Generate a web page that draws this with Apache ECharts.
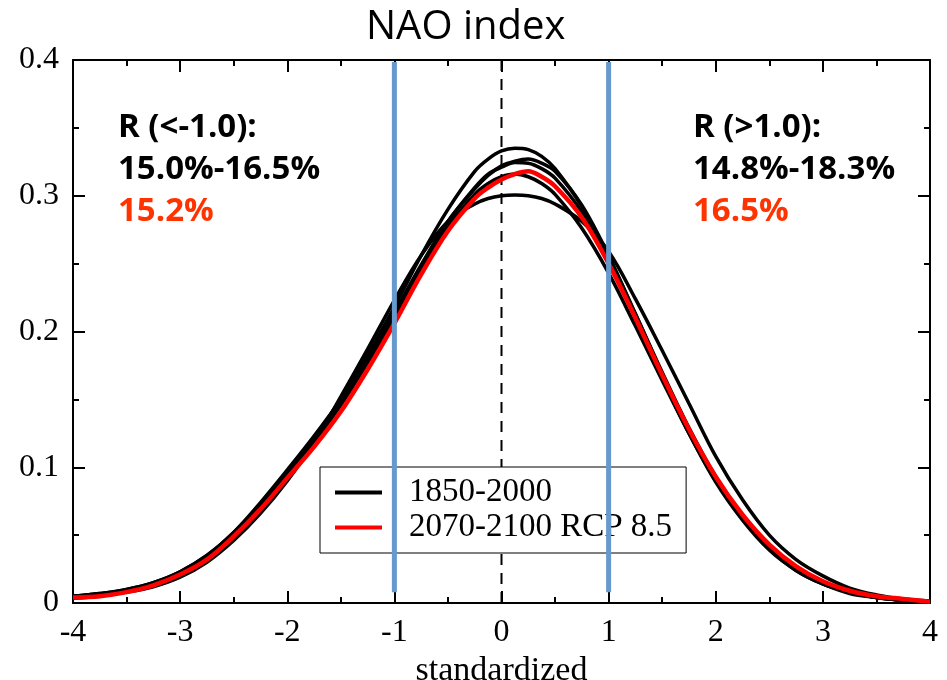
<!DOCTYPE html>
<html><head><meta charset="utf-8">
<script src="https://cdn.jsdelivr.net/npm/echarts@6/dist/echarts.min.js"></script>
<style>html,body{margin:0;padding:0;background:#fff}#c{width:947px;height:680px}</style>
</head><body><div id="c"></div>
<script>
// x positions (standardized NAO index)
const xs = [-4,-3.75,-3.5,-3.25,-3,-2.75,-2.5,-2.25,-2,-1.75,-1.5,-1.25,-1,-0.75,-0.5,-0.25,-0.125,0,0.125,0.25,0.375,0.5,0.75,1,1.25,1.5,1.75,2,2.25,2.5,2.75,3,3.25,3.5,3.75,4];
// 1850-2000 (five black curves)
const hist1 = [.005,.007,.010,.015,.023,.035,.052,.073,.097,.122,.150,.183,.218,.256,.290,.318,.327,.333,.335,.334,.329,.320,.292,.255,.213,.170,.129,.093,.064,.042,.026,.015,.008,.004,.002,.001];
const hist2 = [.005,.006,.009,.014,.022,.034,.051,.072,.095,.119,.146,.178,.212,.248,.281,.305,.315,.322,.3255,.327,.324,.318,.293,.256,.213,.169,.128,.092,.063,.041,.025,.014,.008,.004,.002,.001];
const hist3 = [.005,.007,.010,.015,.023,.035,.052,.074,.098,.123,.150,.181,.214,.249,.281,.306,.316,.321,.3245,.324,.320,.313,.288,.252,.210,.166,.125,.089,.061,.039,.024,.014,.007,.004,.002,.001];
const hist4 = [.004,.006,.009,.014,.022,.033,.050,.071,.095,.119,.146,.177,.210,.245,.277,.301,.309,.314,.316,.314,.309,.301,.276,.243,.204,.164,.125,.090,.062,.040,.024,.014,.008,.004,.002,.001];
const hist5 = [.0035,.005,.008,.012,.019,.030,.046,.066,.090,.118,.152,.187,.223,.256,.281,.294,.298,.3,.3005,.3,.298,.294,.281,.259,.224,.186,.147,.108,.076,.050,.032,.020,.011,.006,.003,.0015];
// 2070-2100 RCP 8.5 (red)
const rcp85 = [.004,.005,.008,.013,.021,.032,.049,.069,.092,.115,.141,.172,.206,.242,.274,.298,.306,.312,.316,.318,.314,.307,.284,.250,.210,.168,.128,.093,.065,.043,.027,.016,.009,.005,.003,.001];
// axis settings
const xMin = -4, xMax = 4, xStep = 1;
const yMin = 0, yMax = 0.4, yStep = 0.1;
// threshold lines
const thresholds = [-1, 1];
const thresholdSpan = [0.008, 0.3985];
const centerLine = 0;
// annotation texts
const leftNote = ['R (<-1.0):', '15.0%-16.5%', '15.2%'];
const rightNote = ['R (>1.0):', '14.8%-18.3%', '16.5%'];
const legendNames = ['1850-2000', '2070-2100 RCP 8.5'];

const serif = "'Liberation Serif','Times New Roman',serif";
const chart = echarts.init(document.getElementById('c'));
const pair = arr => xs.map((x, i) => [x, arr[i]]);

const histSeries = [hist1, hist2, hist3, hist4, hist5].map(arr => ({
  name: legendNames[0], type: 'line', data: pair(arr), smooth: 0.35, showSymbol: false,
  lineStyle: {color: '#000', width: 3.5}, itemStyle: {color: '#000'}, z: 2, silent: true
}));
const axisCommon = {
  type: 'value', splitLine: {show: false},
  axisLine: {onZero: false, lineStyle: {color: '#000', width: 2}},
  axisTick: {inside: true, length: 12, lineStyle: {color: '#000', width: 2}},
  minorTick: {show: true, splitNumber: 2, length: 6, lineStyle: {color: '#000', width: 2}}
};
const noteText = (x, lines) => lines.map((t, i) => ({
  type: 'text', left: x, top: 111 + i * 42, z: 10,
  style: {text: t, fill: i === 2 ? '#ff3300' : '#000', font: "bold 33px 'Open Sans', sans-serif"}
}));

chart.setOption({
  animation: false,
  backgroundColor: '#fff',
  title: {text: 'NAO index', left: 361, top: 3,
    textStyle: {fontFamily: "'Open Sans', sans-serif", fontWeight: 'normal', fontSize: 40, color: '#000'}},
  grid: {left: 73, right: 17, top: 60, bottom: 77, outerBoundsMode: 'none', containLabel: false},
  xAxis: [
    Object.assign({}, axisCommon, {min: xMin, max: xMax, interval: xStep, position: 'bottom',
      axisLabel: {fontFamily: serif, fontSize: 32, color: '#000', margin: 14},
      name: 'standardized', nameLocation: 'middle', nameGap: 42,
      nameTextStyle: {fontFamily: serif, fontSize: 34, color: '#000'}}),
    Object.assign({}, axisCommon, {min: xMin, max: xMax, interval: xStep, position: 'top', axisLabel: {show: false}})
  ],
  yAxis: [
    Object.assign({}, axisCommon, {min: yMin, max: yMax, interval: yStep, position: 'left',
      axisLabel: {fontFamily: serif, fontSize: 32, color: '#000', margin: 14}}),
    Object.assign({}, axisCommon, {min: yMin, max: yMax, interval: yStep, position: 'right', axisLabel: {show: false}})
  ],
  legend: {
    data: [{name: legendNames[0], icon: 'rect'}, {name: legendNames[1], icon: 'rect'}],
    orient: 'vertical', left: 320, top: 467, z: 4,
    backgroundColor: '#fff', borderColor: '#000', borderWidth: 1, borderRadius: 0,
    padding: [8, 14, 8, 15], itemGap: 0, itemWidth: 47, itemHeight: 4,
    textStyle: {fontFamily: serif, fontSize: 33, color: '#000', lineHeight: 35, padding: [0, 0, 0, 22]},
    selectedMode: false
  },
  graphic: noteText(118, leftNote).concat(noteText(693, rightNote)),
  series: [
    {name: 'center', type: 'line', data: [[centerLine, yMin], [centerLine, yMax]], showSymbol: false,
      lineStyle: {color: '#000', width: 2, type: [11, 8]}, z: 1, silent: true},
    ...histSeries,
    {name: legendNames[1], type: 'line', data: pair(rcp85), smooth: 0.35, showSymbol: false,
      lineStyle: {color: '#ff0000', width: 4.5}, itemStyle: {color: '#ff0000'}, z: 3, silent: true},
    ...thresholds.map(t => ({name: 'thr' + t, type: 'line', data: [[t, thresholdSpan[0]], [t, thresholdSpan[1]]],
      showSymbol: false, lineStyle: {color: '#6699cc', width: 5}, z: 6, silent: true}))
  ]
});
</script></body></html>
